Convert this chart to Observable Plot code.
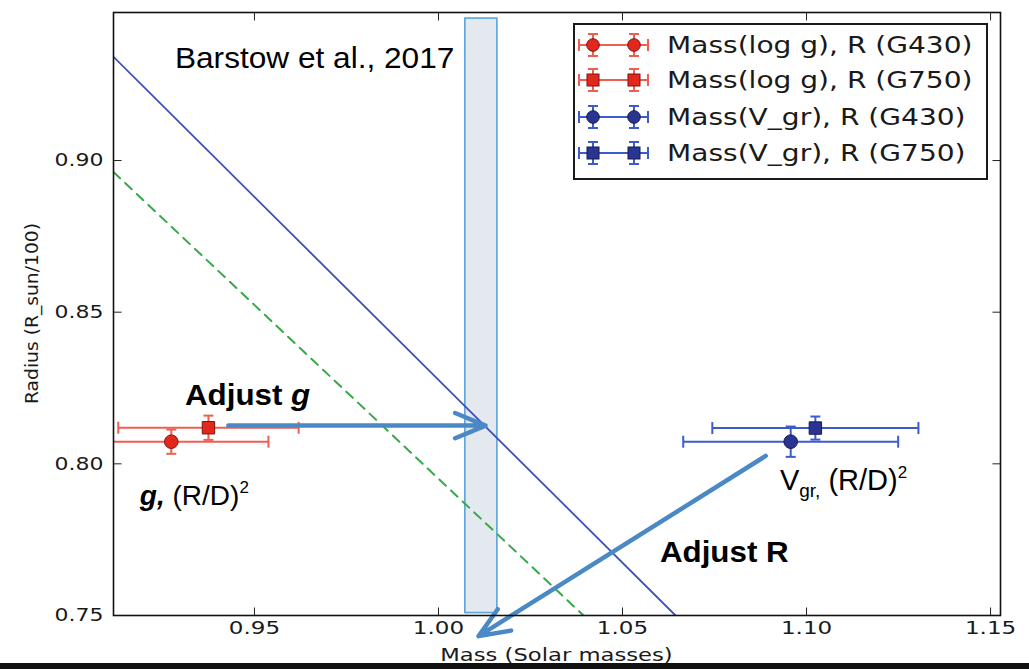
<!DOCTYPE html>
<html><head><meta charset="utf-8">
<script src="https://cdn.jsdelivr.net/npm/d3@7"></script>
<script src="https://cdn.jsdelivr.net/npm/@observablehq/plot@0.6"></script>
<style>
body{margin:0;background:#fff;}
#wrap{position:relative;width:1029px;height:669px;overflow:hidden;background:#fff;}
#wrap svg{position:absolute;left:0;top:0;}
#bar{position:absolute;left:0;bottom:0;width:1029px;height:6px;background:#111;}
</style></head><body><div id="wrap"><div id="bar"></div></div>
<script>
// ---- data ----
const xTicks = [0.95, 1.00, 1.05, 1.10, 1.15];
const yTicks = [0.75, 0.80, 0.85, 0.90];
const xDomain = [0.9117, 1.1527];
const yDomain = [0.75, 0.9488];
const series = ["Mass(log g), R (G430)", "Mass(log g), R (G750)", "Mass(V_gr), R (G430)", "Mass(V_gr), R (G750)"];
const mass = [0.9274, 0.9375, 1.0957, 1.1024];
const massErr = [0.0264, 0.0245, 0.0292, 0.0280];
const radius = [0.8073, 0.8119, 0.8073, 0.8118];
const radiusErr = [0.0040, 0.0040, 0.0050, 0.0038];
const markerShape = ["circle", "square", "circle", "square"];
const seriesGroup = ["g", "g", "v", "v"];
// constraint lines (mass, radius endpoints)
const solidMass = [0.9117, 1.0644], solidRadius = [0.9342, 0.75];
const dashMass = [0.9117, 1.0394], dashRadius = [0.8962, 0.75];
// allowed mass band
const bandMass = [1.0073, 1.0160], bandRadius = [0.7508, 0.9468];
// arrows
const arrowNames = ["Adjust g", "Adjust R"];
const arrowX1 = [0.9429, 1.0889], arrowY1 = [0.8126, 0.8026];
const arrowX2 = [1.0128, 1.0109], arrowY2 = [0.8126, 0.7432];
// annotation anchors (data coordinates)
const noteText = ["Barstow et al., 2017", "Adjust g", "g, (R/D)2", "Vgr, (R/D)2", "Adjust R"];
const noteX = [0.92853, 0.93125, 0.9190, 1.0929, 1.0603];
const noteY = [0.9303, 0.8191, 0.78615, 0.7911, 0.76735];

// ---- styles ----
const markFill = {g: "#e2271d", v: "#2a3592"};
const markEdge = {g: "#7e1410", v: "#141a52"};
const errColor = {g: "#ef5e50", v: "#3d5ccc"};

const pts = series.map((s, i) => ({s, x: mass[i], y: radius[i], xe: massErr[i], ye: radiusErr[i], m: markerShape[i], g: seriesGroup[i]}));
const capV = {draw(ctx) { ctx.moveTo(0, -6); ctx.lineTo(0, 6); }};
const capH = {draw(ctx) { ctx.moveTo(-5, 0); ctx.lineTo(5, 0); }};
const tUp = {draw(ctx) { ctx.moveTo(0, 0); ctx.lineTo(0, -8); }};
const tDown = {draw(ctx) { ctx.moveTo(0, 0); ctx.lineTo(0, 8); }};
const tRight = {draw(ctx) { ctx.moveTo(0, 0); ctx.lineTo(8, 0); }};
const tLeft = {draw(ctx) { ctx.moveTo(0, 0); ctx.lineTo(-8, 0); }};

const xCaps = pts.flatMap(d => [{x: d.x - d.xe, y: d.y, g: d.g}, {x: d.x + d.xe, y: d.y, g: d.g}]);
const yCaps = pts.flatMap(d => [{x: d.x, y: d.y - d.ye, g: d.g}, {x: d.x, y: d.y + d.ye, g: d.g}]);
const solid = solidMass.map((m, i) => ({x: m, y: solidRadius[i]}));
const dash = dashMass.map((m, i) => ({x: m, y: dashRadius[i]}));
const arrows = arrowNames.map((n, i) => ({n, x1: arrowX1[i], y1: arrowY1[i], x2: arrowX2[i], y2: arrowY2[i]}));

const chart = Plot.plot({
  width: 1029, height: 669,
  marginLeft: 113, marginRight: 29, marginTop: 12, marginBottom: 54,
  x: {domain: xDomain},
  y: {domain: yDomain},
  style: {fontFamily: "DejaVu Sans", background: "transparent", overflow: "visible"},
  marks: [
    Plot.rect([0], {x1: () => bandMass[0], x2: () => bandMass[1], y1: () => bandRadius[0], y2: () => bandRadius[1], fill: "#e4e8ef", stroke: "#5aa3da", strokeWidth: 1.6}),
    Plot.line(dash, {x: "x", y: "y", stroke: "#38a848", strokeWidth: 2, strokeDasharray: "9,7", clip: true}),
    Plot.line(solid, {x: "x", y: "y", stroke: "#3e4fb8", strokeWidth: 1.8, clip: true}),
    // error bars
    Plot.link(pts, {x1: d => d.x - d.xe, x2: d => d.x + d.xe, y1: "y", y2: "y", stroke: d => errColor[d.g], strokeWidth: 2, clip: true}),
    Plot.link(pts, {x1: "x", x2: "x", y1: d => d.y - d.ye, y2: d => d.y + d.ye, stroke: d => errColor[d.g], strokeWidth: 2, clip: true}),
    Plot.dot(xCaps, {x: "x", y: "y", symbol: capV, stroke: d => errColor[d.g], strokeWidth: 2, clip: true}),
    Plot.dot(yCaps, {x: "x", y: "y", symbol: capH, stroke: d => errColor[d.g], strokeWidth: 2, clip: true}),
    // markers
    Plot.dot(pts.filter(d => d.m === "circle"), {x: "x", y: "y", r: 6.8, symbol: "circle", fill: d => markFill[d.g], stroke: d => markEdge[d.g], strokeWidth: 1}),
    Plot.dot(pts.filter(d => d.m === "square"), {x: "x", y: "y", r: 7, symbol: "square", fill: d => markFill[d.g], stroke: d => markEdge[d.g], strokeWidth: 1}),
    // arrows
    Plot.arrow(arrows, {x1: "x1", y1: "y1", x2: "x2", y2: "y2", stroke: "#4a89c6", strokeWidth: 4.5, headLength: 11, headAngle: 45}),
    // inward ticks
    Plot.dot(xTicks, {x: d => d, frameAnchor: "bottom", symbol: tUp, stroke: "#222", strokeWidth: 1}),
    Plot.dot(xTicks, {x: d => d, frameAnchor: "top", symbol: tDown, stroke: "#222", strokeWidth: 1}),
    Plot.dot(yTicks, {y: d => d, frameAnchor: "left", symbol: tRight, stroke: "#222", strokeWidth: 1}),
    Plot.dot(yTicks, {y: d => d, frameAnchor: "right", symbol: tLeft, stroke: "#222", strokeWidth: 1}),
    Plot.axisX(xTicks, {tickSize: 0, tickPadding: 6, fontSize: 18, tickFormat: d3.format(".2f"), label: null, fill: "#1a1a1a"}),
    Plot.axisY(yTicks, {tickSize: 0, tickPadding: 10, fontSize: 18, tickFormat: d3.format(".2f"), label: null, fill: "#1a1a1a"}),
    Plot.frame({stroke: "#111", strokeWidth: 1.6})
  ]
});
const wrap = document.getElementById("wrap");
wrap.appendChild(chart);

function stretch(nodes, k) {
  nodes.forEach(n => {
    const L = n.getComputedTextLength();
    n.setAttribute("textLength", L * k);
    n.setAttribute("lengthAdjust", "spacingAndGlyphs");
  });
}
const svg = d3.select(chart);
stretch(svg.selectAll('g[aria-label="x-axis tick label"] text').nodes(), 1.28);
stretch(svg.selectAll('g[aria-label="y-axis tick label"] text').nodes(), 1.22);

const sx = chart.scale("x"), sy = chart.scale("y");
const fx = v => sx.apply(v), fy = v => sy.apply(v);

// axis titles
const xl = svg.append("text").attr("x", (113 + 1000) / 2).attr("y", 661).attr("text-anchor", "middle")
  .attr("font-family", "DejaVu Sans").attr("font-size", 18).attr("fill", "#1a1a1a").text("Mass (Solar masses)");
stretch([xl.node()], 1.26);
const yl = svg.append("text").attr("transform", `translate(38,${(12 + 615) / 2}) rotate(-90)`).attr("text-anchor", "middle")
  .attr("font-family", "DejaVu Sans").attr("font-size", 17).attr("fill", "#1a1a1a").text("Radius (R_sun/100)");
stretch([yl.node()], 1.1);

// annotations
const ann = svg.append("g").attr("font-family", "Liberation Sans, Arial, sans-serif").attr("fill", "#000").attr("text-anchor", "start");
function note(i, size, weight) {
  return ann.append("text").attr("x", fx(noteX[i])).attr("y", fy(noteY[i])).attr("font-size", size).attr("font-weight", weight).attr("text-anchor", "start");
}
let t;
t = note(0, 29, "normal"); t.text(noteText[0]); stretch([t.node()], 1.09);
t = note(1, 29, "bold"); t.append("tspan").text("Adjust "); t.append("tspan").attr("font-style", "italic").text("g"); stretch([t.node()], 1.08);
t = note(2, 28, "normal");
t.append("tspan").attr("font-weight", "bold").attr("font-style", "italic").text("g,");
t.append("tspan").text("\u00a0(R/D)");
t.append("tspan").attr("font-size", 17).attr("dy", -12).text("2");
t = note(3, 29, "normal");
t.append("tspan").text("V");
t.append("tspan").attr("font-size", 19).attr("dy", 7).text("gr,");
t.append("tspan").attr("dy", -7).text("\u00a0(R/D)");
t.append("tspan").attr("font-size", 17).attr("dy", -12).text("2");
t = note(4, 29, "bold"); t.text(noteText[4]); stretch([t.node()], 1.08);

// legend
const lg = svg.append("g").attr("text-anchor", "start");
lg.append("rect").attr("x", 574).attr("y", 24).attr("width", 413).attr("height", 155).attr("fill", "#fff").attr("stroke", "#1a1a1a").attr("stroke-width", 2);
const rowY = [45, 80, 117, 153];
series.forEach((s, i) => {
  const g = seriesGroup[i], y = rowY[i];
  const row = lg.append("g").attr("stroke", errColor[g]).attr("stroke-width", 2).attr("fill", "none");
  row.append("line").attr("x1", 579).attr("x2", 648).attr("y1", y).attr("y2", y);
  row.append("line").attr("x1", 579).attr("x2", 579).attr("y1", y - 6).attr("y2", y + 6);
  row.append("line").attr("x1", 648).attr("x2", 648).attr("y1", y - 6).attr("y2", y + 6);
  [593, 634].forEach(cx => {
    row.append("line").attr("x1", cx).attr("x2", cx).attr("y1", y - 11).attr("y2", y + 11);
    row.append("line").attr("x1", cx - 5).attr("x2", cx + 5).attr("y1", y - 11).attr("y2", y - 11);
    row.append("line").attr("x1", cx - 5).attr("x2", cx + 5).attr("y1", y + 11).attr("y2", y + 11);
    if (markerShape[i] === "circle") {
      lg.append("circle").attr("cx", cx).attr("cy", y).attr("r", 6.3).attr("fill", markFill[g]).attr("stroke", markEdge[g]);
    } else {
      lg.append("rect").attr("x", cx - 6).attr("y", y - 6).attr("width", 12).attr("height", 12).attr("fill", markFill[g]).attr("stroke", markEdge[g]);
    }
  });
  const tx = lg.append("text").attr("x", 667).attr("y", y + 8).attr("text-anchor", "start").attr("font-family", "DejaVu Sans").attr("font-size", 23).attr("fill", "#1a1a1a").text(s);
  stretch([tx.node()], 1.22);
});
</script></body></html>
